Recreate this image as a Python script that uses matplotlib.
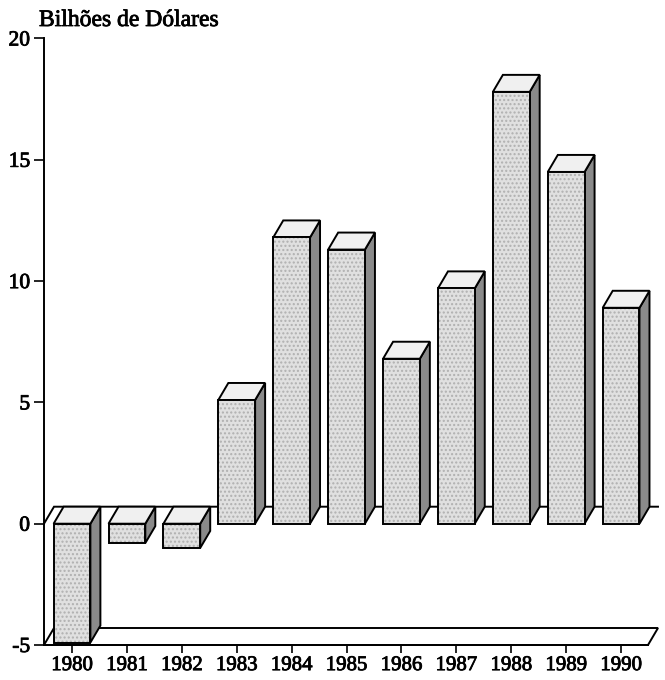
import matplotlib
matplotlib.use("Agg")
import matplotlib.pyplot as plt
from matplotlib.patches import Polygon
import matplotlib.patheffects as pe

# Balanço anual, em bilhões de dólares
anos = ["1980", "1981", "1982", "1983", "1984", "1985",
        "1986", "1987", "1988", "1989", "1990"]
valores = [-4.9, -0.8, -1.0, 5.1, 11.8, 11.3, 6.8, 9.7, 17.8, 14.5, 8.9]
y_ticks = [-5, 0, 5, 10, 15, 20]
titulo = "Bilhões de Dólares"

plt.rcParams["font.family"] = ["Liberation Serif", "DejaVu Serif"]

W, H = 665, 680
fig = plt.figure(figsize=(W / 100, H / 100), dpi=100)
fig.patch.set_facecolor("white")

ax_l, ax_r = 44, 648
ax_t, ax_b = 38.5, 645
ax = fig.add_axes([ax_l / W, 1 - ax_b / H, (ax_r - ax_l) / W, (ax_b - ax_t) / H])

x0, x1 = -0.51, 10.49
y0, y1 = -5, 20
ax.set_xlim(x0, x1)
ax.set_ylim(y0, y1)

# depth of the pseudo-3D extrusion, in data units
px_x = (x1 - x0) / (ax_r - ax_l)
px_y = (y1 - y0) / (ax_b - ax_t)
dx = 10 * px_x
dy = 17 * px_y

bar_w = 0.67
front_c = "#e0e0e0"
top_c = "#f0f0f0"
side_c = "#8a8a8a"
lw = 1.4

# floor at the bottom of the scale
floor = Polygon([(x0, y0), (x1, y0), (x1 + dx, y0 + dy), (x0 + dx, y0 + dy)],
                closed=True, facecolor="white", edgecolor="black", lw=lw,
                zorder=1, clip_on=False)
ax.add_patch(floor)

# zero plane
ax.plot([x0, x0 + dx, x1 + dx], [0, dy, dy], color="black", lw=lw,
        zorder=1.5, clip_on=False, solid_joinstyle="miter")


def face(pts, color, z, hatch=None):
    if hatch:
        ax.add_patch(Polygon(pts, closed=True, facecolor=color, edgecolor="#b0b0b0",
                             lw=0, hatch=hatch, zorder=z, clip_on=False))
        ax.add_patch(Polygon(pts, closed=True, facecolor="none", edgecolor="black",
                             lw=lw, zorder=z + 0.01, clip_on=False,
                             joinstyle="miter"))
    else:
        ax.add_patch(Polygon(pts, closed=True, facecolor=color, edgecolor="black",
                             lw=lw, zorder=z, clip_on=False, joinstyle="miter"))


for i, v in enumerate(valores):
    a, b = i - bar_w / 2, i + bar_w / 2
    lo, hi = min(0, v), max(0, v)
    z = 3 + i * 0.1
    face([(b, lo), (b + dx, lo + dy), (b + dx, hi + dy), (b, hi)], side_c, z)
    face([(a, hi), (b, hi), (b + dx, hi + dy), (a + dx, hi + dy)], top_c, z + 0.02)
    face([(a, lo), (b, lo), (b, hi), (a, hi)], front_c, z + 0.04, hatch="....")

for s in ["top", "right"]:
    ax.spines[s].set_visible(False)
ax.spines["left"].set_linewidth(lw)
ax.spines["bottom"].set_linewidth(lw)
ax.spines["left"].set_zorder(10)

heavy = [pe.withStroke(linewidth=0.6, foreground="black")]

ax.set_yticks(y_ticks)
ax.set_yticklabels([str(t) for t in y_ticks])
ax.set_xticks(range(len(anos)))
ax.set_xticklabels(anos)
ax.tick_params(axis="y", direction="out", length=7, width=1.2, pad=3,
               labelsize=15.5)
ax.tick_params(axis="x", direction="out", length=6, width=1.2, pad=2,
               labelsize=15)
for lab in ax.get_xticklabels() + ax.get_yticklabels():
    lab.set_path_effects(heavy)
ax.patch.set_visible(False)

fig.text(39 / W, 1 - 26 / H, titulo, ha="left", va="baseline", fontsize=17,
         path_effects=heavy)

fig.savefig("out.png", dpi=100, facecolor="white")
